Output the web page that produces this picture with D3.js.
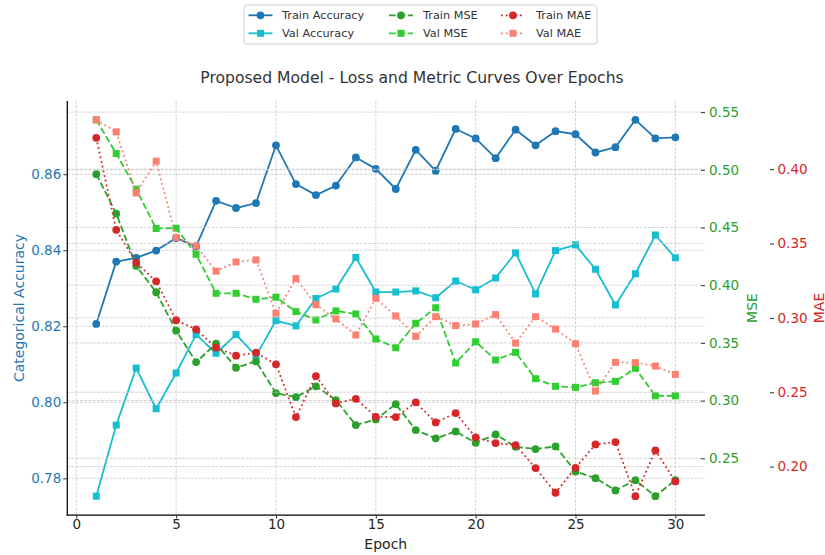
<!DOCTYPE html>
<html>
<head>
<meta charset="utf-8">
<script src="https://cdn.jsdelivr.net/npm/d3@7"></script>
<style>
  html, body { margin: 0; padding: 0; background: #fff; }
  svg { display: block; font-family: "DejaVu Sans", sans-serif; }
</style>
</head>
<body>
<svg id="chart" width="825" height="555"></svg>
<script>
// Training history, one value per epoch
const epochs = d3.range(1, 31);
const trainAcc = [0.8206,0.8370,0.8380,0.8399,0.8432,0.8410,0.8530,0.8511,0.8524,0.8676,0.8574,0.8545,0.8570,0.8644,0.8614,0.8561,0.8664,0.8609,0.8719,0.8694,0.8642,0.8717,0.8676,0.8713,0.8705,0.8657,0.8671,0.8743,0.8694,0.8697];
const valAcc   = [0.7753,0.7940,0.8090,0.7983,0.8077,0.8178,0.8129,0.8178,0.8122,0.8215,0.8201,0.8273,0.8298,0.8381,0.8290,0.8290,0.8293,0.8275,0.8319,0.8296,0.8327,0.8393,0.8285,0.8399,0.8414,0.8350,0.8256,0.8338,0.8440,0.8380];
const trainMse = [0.4962,0.4621,0.4167,0.3939,0.3606,0.3334,0.3493,0.3285,0.3340,0.3065,0.3031,0.3124,0.3005,0.2788,0.2837,0.2970,0.2745,0.2673,0.2733,0.2634,0.2707,0.2600,0.2580,0.2603,0.2386,0.2328,0.2222,0.2311,0.2172,0.2311];
const valMse   = [0.5433,0.5141,0.4832,0.4491,0.4494,0.4268,0.3930,0.3930,0.3878,0.3896,0.3771,0.3699,0.3777,0.3751,0.3534,0.3458,0.3670,0.3805,0.3326,0.3510,0.3352,0.3418,0.3190,0.3124,0.3115,0.3155,0.3167,0.3280,0.3042,0.3042];
const trainMae = [0.4211,0.3592,0.3372,0.3246,0.2984,0.2923,0.2800,0.2746,0.2766,0.2688,0.2333,0.2609,0.2425,0.2456,0.2335,0.2333,0.2432,0.2297,0.2360,0.2197,0.2158,0.2145,0.1990,0.1824,0.1992,0.2149,0.2165,0.1801,0.2109,0.1900];
const valMae   = [0.4332,0.4251,0.3840,0.4054,0.3540,0.3484,0.3314,0.3376,0.3390,0.3031,0.3264,0.3089,0.2993,0.2885,0.3132,0.3013,0.2876,0.3008,0.2948,0.2959,0.3022,0.2831,0.3008,0.2925,0.2826,0.2508,0.2701,0.2699,0.2676,0.2620];

// Tick values
const xTicks   = [0, 5, 10, 15, 20, 25, 30];
const accTicks = [0.78, 0.80, 0.82, 0.84, 0.86];
const mseTicks = [0.25, 0.30, 0.35, 0.40, 0.45, 0.50, 0.55];
const maeTicks = [0.20, 0.25, 0.30, 0.35, 0.40];

// Labels
const titleText = "Proposed Model - Loss and Metric Curves Over Epochs";
const xLabel = "Epoch";
const accLabel = "Categorical Accuracy";
const mseLabel = "MSE";
const maeLabel = "MAE";

const C = {
  blue: "#1f77b4", cyan: "#17becf", green: "#2ca02c", lime: "#32cd32",
  red: "#d62728", salmon: "#fa8072", text: "#262626", grid: "#c8c8c8"
};

const svg = d3.select("#chart");
const plot = { left: 67.3, right: 704.3, top: 101, bottom: 515 };

// domain padded by 5% on each side
function padded(vals) {
  const [lo, hi] = d3.extent(vals);
  const p = (hi - lo) * 0.05;
  return [lo - p, hi + p];
}

const x = d3.scaleLinear().domain(padded(epochs)).range([plot.left, plot.right]);
const yAcc = d3.scaleLinear().domain(padded(trainAcc.concat(valAcc))).range([plot.bottom, plot.top]);
const yMse = d3.scaleLinear().domain(padded(trainMse.concat(valMse))).range([plot.bottom, plot.top]);
const yMae = d3.scaleLinear().domain(padded(trainMae.concat(valMae))).range([plot.bottom, plot.top]);

const LW = 1.8;
const series = [
  { name: "Train Accuracy", values: trainAcc, y: yAcc, color: C.blue,   dash: null, marker: "circle", layer: 0 },
  { name: "Val Accuracy",   values: valAcc,   y: yAcc, color: C.cyan,   dash: null, marker: "square", layer: 0 },
  { name: "Train MSE",      values: trainMse, y: yMse, color: C.green,  dash: `${3.7*LW},${1.6*LW}`, marker: "circle", layer: 1 },
  { name: "Val MSE",        values: valMse,   y: yMse, color: C.lime,   dash: `${3.7*LW},${1.6*LW}`, marker: "square", layer: 1 },
  { name: "Train MAE",      values: trainMae, y: yMae, color: C.red,    dash: `${1*LW},${1.65*LW}`, marker: "circle", layer: 2 },
  { name: "Val MAE",        values: valMae,   y: yMae, color: C.salmon, dash: `${1*LW},${1.65*LW}`, marker: "square", layer: 2 }
];

const R = 3.9, SQ = 7;
function drawMarker(g, kind, cx, cy, color, scale = 1) {
  if (kind === "circle") {
    g.append("circle").attr("cx", cx).attr("cy", cy).attr("r", R * scale).attr("fill", color);
  } else {
    const s = SQ * scale;
    g.append("rect").attr("x", cx - s / 2).attr("y", cy - s / 2).attr("width", s).attr("height", s).attr("fill", color);
  }
}

function gridLayer(g, scale, ticks) {
  g.selectAll(null).data(ticks).join("line")
    .attr("x1", plot.left).attr("x2", plot.right)
    .attr("y1", d => scale(d)).attr("y2", d => scale(d))
    .attr("stroke", C.grid).attr("stroke-width", 0.8).attr("stroke-dasharray", "2.96,1.28");
}

const layerScales = [[yAcc, accTicks], [yMse, mseTicks], [yMae, maeTicks]];

// Each twin axis draws its own grid, then its curves, on top of the previous one
layerScales.forEach(([scale, ticks], li) => {
  const layer = svg.append("g");
  const grid = layer.append("g");
  if (li === 0) {
    grid.selectAll(null).data(xTicks).join("line")
      .attr("x1", d => x(d)).attr("x2", d => x(d))
      .attr("y1", plot.top).attr("y2", plot.bottom)
      .attr("stroke", C.grid).attr("stroke-width", 0.8).attr("stroke-dasharray", "2.96,1.28");
  }
  gridLayer(grid, scale, ticks);

  series.filter(s => s.layer === li).forEach(s => {
    const g = layer.append("g");
    const line = d3.line().x((d, i) => x(epochs[i])).y(d => s.y(d));
    g.append("path").datum(s.values)
      .attr("d", line).attr("fill", "none")
      .attr("stroke", s.color).attr("stroke-width", LW)
      .attr("stroke-linejoin", "round")
      .attr("stroke-dasharray", s.dash);
    s.values.forEach((v, i) => drawMarker(g, s.marker, x(epochs[i]), s.y(v), s.color));
  });
});

// Spines
svg.append("line").attr("x1", plot.left).attr("x2", plot.left)
  .attr("y1", plot.top).attr("y2", plot.bottom + 0.6)
  .attr("stroke", "#000").attr("stroke-width", 1.25);
svg.append("line").attr("x1", plot.left - 0.6).attr("x2", plot.right + 0.7)
  .attr("y1", plot.bottom).attr("y2", plot.bottom)
  .attr("stroke", "#000").attr("stroke-width", 1.25);

function styleAxis(g, color) {
  g.select(".domain").remove();
  g.selectAll(".tick line").attr("stroke", "#333").attr("stroke-width", 1);
  g.selectAll(".tick text").attr("fill", color).attr("font-size", 13.5)
    .attr("font-family", "DejaVu Sans, sans-serif");
}

// Bottom axis
const gx = svg.append("g").attr("transform", `translate(0,${plot.bottom})`)
  .call(d3.axisBottom(x).tickValues(xTicks).tickFormat(d3.format("d")).tickSize(3.5));
styleAxis(gx, C.text);
gx.selectAll(".tick text").attr("y", 13.5).attr("dy", 0);

// Left accuracy axis
const gl = svg.append("g").attr("transform", `translate(${plot.left},0)`)
  .call(d3.axisLeft(yAcc).tickValues(accTicks).tickFormat(d3.format(".2f")).tickSize(4).tickPadding(2));
styleAxis(gl, C.blue);

// Right MSE axis
const gm = svg.append("g").attr("transform", `translate(${plot.right + 0.7},0)`)
  .call(d3.axisRight(yMse).tickValues(mseTicks).tickFormat(d3.format(".2f")).tickSize(-4).tickPadding(4));
styleAxis(gm, C.green);

// Offset MAE axis
const ga = svg.append("g").attr("transform", `translate(770,0)`)
  .call(d3.axisRight(yMae).tickValues(maeTicks).tickFormat(d3.format(".2f")).tickSize(4).tickPadding(3.5));
styleAxis(ga, C.red);

// Axis labels
const midY = (plot.top + plot.bottom) / 2;
svg.append("text").attr("transform", `translate(23.5,${midY}) rotate(-90)`)
  .attr("text-anchor", "middle").attr("font-size", 14).attr("fill", C.blue).text(accLabel);
svg.append("text").attr("transform", `translate(757,${midY}) rotate(-90)`)
  .attr("text-anchor", "middle").attr("font-size", 14).attr("fill", C.green).text(mseLabel);
svg.append("text").attr("transform", `translate(823.5,${midY}) rotate(-90)`)
  .attr("text-anchor", "middle").attr("font-size", 14).attr("fill", C.red).text(maeLabel);
svg.append("text").attr("x", (plot.left + plot.right) / 2).attr("y", 549)
  .attr("text-anchor", "middle").attr("font-size", 14).attr("fill", C.text).text(xLabel);

// Title
svg.append("text").attr("x", 412).attr("y", 83)
  .attr("text-anchor", "middle").attr("font-size", 15.6).attr("fill", "#333").text(titleText);

// Legend
const legend = svg.append("g");
legend.append("rect").attr("x", 244).attr("y", 5).attr("width", 353).attr("height", 39)
  .attr("rx", 3).attr("fill", "#fff").attr("fill-opacity", 0.8)
  .attr("stroke", "#d0d0d0").attr("stroke-width", 1);
const colMarkerX = [260.5, 401, 513];
const colTextX = [282, 423, 536];
const rowY = [15.3, 33.3];
series.forEach((s, i) => {
  const col = Math.floor(i / 2), row = i % 2;
  const cx = colMarkerX[col], cy = rowY[row];
  const g = legend.append("g");
  g.append("line").attr("x1", cx - 12).attr("x2", cx + 12).attr("y1", cy).attr("y2", cy)
    .attr("stroke", s.color).attr("stroke-width", LW).attr("stroke-dasharray", s.dash);
  drawMarker(g, s.marker, cx, cy, s.color);
  g.append("text").attr("x", colTextX[col]).attr("y", cy).attr("dy", "0.36em")
    .attr("font-size", 11.3).attr("fill", "#333").text(s.name);
});
</script>
</body>
</html>
